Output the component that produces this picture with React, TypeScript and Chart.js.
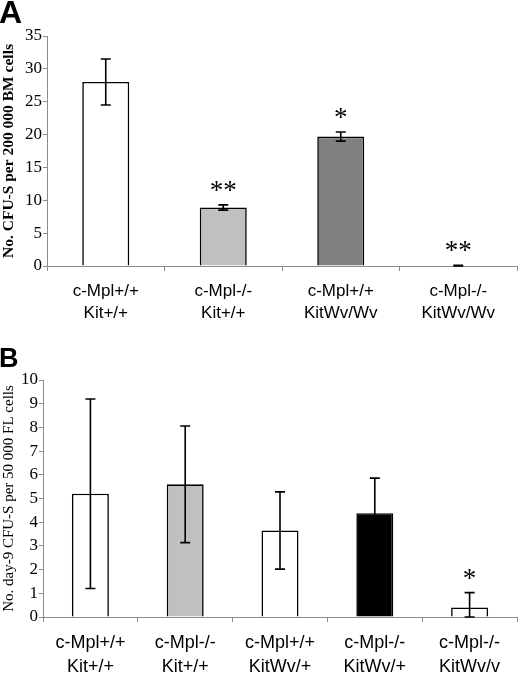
import React, { useEffect, useRef } from 'react';
import { Chart, registerables } from 'chart.js';

Chart.register(...registerables);

// panel A: CFU-S from bone marrow
const labelsA = [
  ['c-Mpl+/+', 'Kit+/+'],
  ['c-Mpl-/-', 'Kit+/+'],
  ['c-Mpl+/+', 'KitWv/Wv'],
  ['c-Mpl-/-', 'KitWv/Wv'],
];
const valuesA = [28, 8.9, 19.7, 0];
const errorsA = [3.5, 0.4, 0.7, 0.1];
const starsA = ['', '**', '*', '**'];
const colorsA = ['#ffffff', '#c0c0c0', '#808080', '#ffffff'];

// panel B: day-9 CFU-S from fetal liver
const labelsB = [
  ['c-Mpl+/+', 'Kit+/+'],
  ['c-Mpl-/-', 'Kit+/+'],
  ['c-Mpl+/+', 'KitWv/+'],
  ['c-Mpl-/-', 'KitWv/+'],
  ['c-Mpl-/-', 'KitWv/v'],
];
const valuesB = [5.2, 5.6, 3.65, 4.38, 0.4];
const errorsB = [4.0, 2.46, 1.63, 1.48, 0.63];
const starsB = ['', '', '', '', '*'];
const colorsB = ['#ffffff', '#c0c0c0', '#ffffff', '#000000', '#ffffff'];

const AXIS = '#8c8c8c';
const SERIF = '"Liberation Serif", "Times New Roman", serif';
const SANS = '"Liberation Sans", Arial, sans-serif';

type PanelProps = {
  letter: string;
  letterSize: number;
  letterBase: number;
  labels: string[][];
  values: number[];
  errors: number[];
  stars: string[];
  colors: string[];
  yMax: number;
  yStep: number;
  yTitle: string;
  yTitleBold: boolean;
  yWidth: number;
  padTop: number;
  xHeight: number;
  xFont: number;
  xLineHeight: number;
  xPad: number;
  barPct: number;
  height: number;
};

const Panel = (p: PanelProps) => {
  const canvasRef = useRef<HTMLCanvasElement>(null);

  useEffect(() => {
    const ctx = canvasRef.current?.getContext('2d');
    if (!ctx) return;

    const overlay = {
      id: 'overlay',
      afterDatasetsDraw(chart: any) {
        const c = chart.ctx;
        const y = chart.scales.y;
        const meta = chart.getDatasetMeta(0);
        c.save();
        c.strokeStyle = '#000';
        c.lineWidth = 1.6;
        p.values.forEach((v, i) => {
          const x = meta.data[i].x;
          const top = y.getPixelForValue(v + p.errors[i]);
          const bot = y.getPixelForValue(Math.max(0, v - p.errors[i]));
          c.beginPath();
          c.moveTo(x, top);
          c.lineTo(x, bot);
          c.moveTo(x - 5, top);
          c.lineTo(x + 5, top);
          c.moveTo(x - 5, bot);
          c.lineTo(x + 5, bot);
          c.stroke();
          if (p.stars[i]) {
            c.fillStyle = '#000';
            c.font = `27px ${SERIF}`;
            c.textAlign = 'center';
            c.textBaseline = 'alphabetic';
            c.fillText(p.stars[i], x, top - 6);
          }
        });
        c.fillStyle = '#000';
        c.font = `bold ${p.letterSize}px ${SANS}`;
        c.textAlign = 'left';
        c.textBaseline = 'alphabetic';
        c.fillText(p.letter, -1, p.letterBase);
        c.restore();
      },
    };

    const chart = new Chart(ctx, {
      type: 'bar',
      data: {
        labels: p.labels,
        datasets: [
          {
            data: p.values,
            backgroundColor: p.colors,
            borderColor: '#000',
            borderWidth: 1.6,
            barPercentage: p.barPct,
            categoryPercentage: 1,
          },
        ],
      },
      options: {
        responsive: false,
        animation: false,
        layout: { padding: { top: p.padTop, right: 3, left: 0, bottom: 0 } },
        plugins: { legend: { display: false }, tooltip: { enabled: false } },
        scales: {
          x: {
            grid: { offset: true, drawOnChartArea: false, tickLength: 5, color: AXIS },
            border: { color: AXIS, width: 1 },
            ticks: {
              color: '#000',
              padding: p.xPad,
              maxRotation: 0,
              autoSkip: false,
              font: { family: SANS, size: p.xFont, lineHeight: p.xLineHeight },
            },
            afterFit: (s: any) => { s.height = p.xHeight; },
          },
          y: {
            min: 0,
            max: p.yMax,
            grid: { drawOnChartArea: false, tickLength: 4, color: AXIS },
            border: { color: AXIS, width: 1 },
            ticks: {
              stepSize: p.yStep,
              color: '#000',
              padding: 1,
              font: { family: SERIF, size: 17 },
            },
            title: {
              display: true,
              text: p.yTitle,
              color: '#000',
              padding: { top: 0, bottom: 0 },
              font: { family: SERIF, size: p.yTitleBold ? 15.5 : 15, weight: p.yTitleBold ? 'bold' : 'normal', lineHeight: 1.2 },
            },
            afterFit: (s: any) => { s.width = p.yWidth; },
          },
        },
      },
      plugins: [overlay],
    });

    return () => chart.destroy();
  }, [p]);

  return <canvas ref={canvasRef} width={520} height={p.height} style={{ display: 'block' }} />;
};

export default function App() {
  return (
    <div style={{ position: 'fixed', left: 0, top: 0, width: 520, height: 674, background: '#fff' }}>
      <Panel
        letter="A"
        letterSize={32}
        letterBase={23}
        labels={labelsA}
        values={valuesA}
        errors={errorsA}
        stars={starsA}
        colors={colorsA}
        yMax={35}
        yStep={5}
        yTitle="No. CFU-S per 200 000 BM cells"
        yTitleBold={true}
        yWidth={47}
        padTop={36}
        xHeight={64}
        xFont={17}
        xLineHeight={1.25}
        xPad={10}
        barPct={0.4}
        height={330}
      />
      <Panel
        letter="B"
        letterSize={27}
        letterBase={37}
        labels={labelsB}
        values={valuesB}
        errors={errorsB}
        stars={starsB}
        colors={colorsB}
        yMax={10}
        yStep={1}
        yTitle="No. day-9 CFU-S per 50 000 FL cells"
        yTitleBold={false}
        yWidth={43}
        padTop={50}
        xHeight={57}
        xFont={18}
        xLineHeight={1.33}
        xPad={9}
        barPct={0.39}
        height={344}
      />
    </div>
  );
}
